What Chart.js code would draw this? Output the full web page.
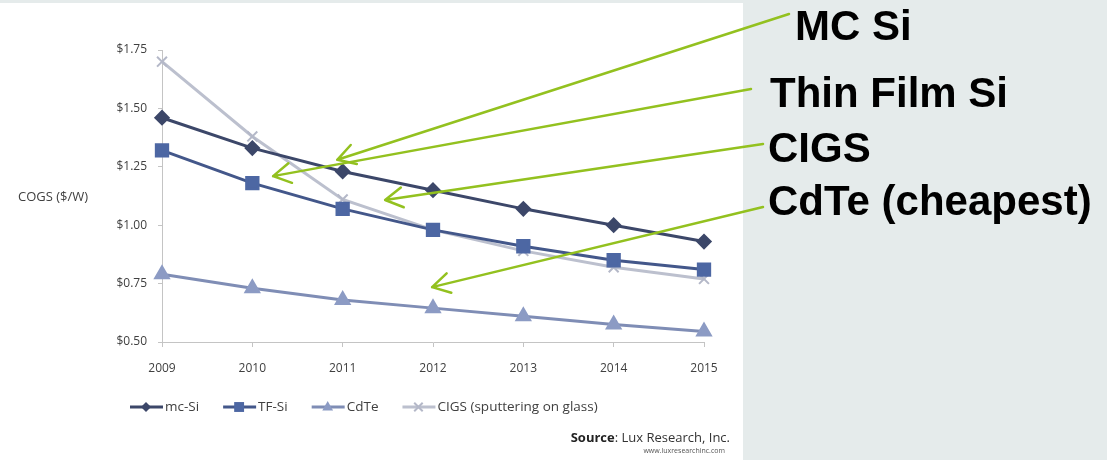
<!DOCTYPE html>
<html>
<head>
<meta charset="utf-8">
<script src="https://cdn.jsdelivr.net/npm/chart.js@4/dist/chart.umd.min.js"></script>
<style>
  html, body { margin: 0; padding: 0; background: #e5ebeb; }
  canvas { display: block; }
</style>
</head>
<body>
<canvas id="cogsChart" width="1107" height="460"></canvas>
<script>
// data
const years = ['2009', '2010', '2011', '2012', '2013', '2014', '2015'];
const mcSi = [1.46, 1.33, 1.23, 1.15, 1.07, 1.00, 0.93];
const tfSi = [1.32, 1.18, 1.07, 0.98, 0.91, 0.85, 0.81];
const cdTe = [0.79, 0.73, 0.68, 0.645, 0.61, 0.575, 0.545];
const cigs = [1.70, 1.38, 1.11, 0.98, 0.89, 0.82, 0.77];
const seriesNames = ['mc-Si', 'TF-Si', 'CdTe', 'CIGS (sputtering on glass)'];
const yMin = 0.5, yMax = 1.75, yStep = 0.25;

// callouts on the right: text, and where the arrow tip points (category index, value)
const callouts = ['MC Si', 'Thin Film Si', 'CIGS', 'CdTe (cheapest)'];
const calloutTips = [[1.94, 1.28], [1.23, 1.21], [2.47, 1.108], [2.99, 0.735]];

const green = '#93c11f';

function drawMarker(ctx, style, x, y, r) {
  ctx.beginPath();
  if (style === 'rectRot') {
    ctx.moveTo(x, y - r); ctx.lineTo(x + r, y); ctx.lineTo(x, y + r); ctx.lineTo(x - r, y);
    ctx.closePath(); ctx.fill();
  } else if (style === 'rect') {
    let s = r * Math.SQRT1_2;
    ctx.rect(x - s, y - s, 2 * s, 2 * s); ctx.fill();
  } else if (style === 'triangle') {
    ctx.moveTo(x, y - r); ctx.lineTo(x + r * 0.9, y + r * 0.6); ctx.lineTo(x - r * 0.9, y + r * 0.6);
    ctx.closePath(); ctx.fill();
  } else {
    let s = r * Math.SQRT1_2;
    ctx.moveTo(x - s, y - s); ctx.lineTo(x + s, y + s);
    ctx.moveTo(x + s, y - s); ctx.lineTo(x - s, y + s);
    ctx.stroke();
  }
}

const extras = {
  id: 'extras',
  beforeDraw(chart) {
    const ctx = chart.ctx;
    ctx.save();
    ctx.fillStyle = '#e5ebeb';
    ctx.fillRect(0, 0, chart.width, chart.height);
    ctx.fillStyle = '#ffffff';
    ctx.fillRect(0, 3, 743, chart.height - 3);
    ctx.restore();
  },
  afterDraw(chart) {
    const ctx = chart.ctx;
    const area = chart.chartArea;
    ctx.save();

    // axis title, written flat on the left
    ctx.fillStyle = '#404040';
    ctx.font = '13px "Open Sans"';
    ctx.textBaseline = 'middle';
    ctx.textAlign = 'left';
    ctx.fillText('COGS ($/W)', 18, (area.top + area.bottom) / 2 + 1);

    // legend: line with marker, then label
    let lx = 130;
    const ly = 407;
    ctx.font = '13.5px "Open Sans"';
    chart.data.datasets.forEach((ds) => {
      ctx.strokeStyle = ds.borderColor;
      ctx.lineWidth = 3;
      ctx.beginPath(); ctx.moveTo(lx, ly); ctx.lineTo(lx + 33, ly); ctx.stroke();
      ctx.fillStyle = ds.pointBackgroundColor;
      ctx.strokeStyle = ds.pointBorderColor;
      ctx.lineWidth = 2;
      drawMarker(ctx, ds.pointStyle, lx + 16, ly, ds.pointRadius - 1);
      ctx.fillStyle = '#404040';
      ctx.fillText(ds.label, lx + 35, ly);
      lx += 35 + ctx.measureText(ds.label).width + 24;
    });

    // source line
    ctx.textAlign = 'right';
    ctx.textBaseline = 'alphabetic';
    ctx.font = '13px "Open Sans"';
    const rest = ': Lux Research, Inc.';
    ctx.fillStyle = '#333';
    ctx.fillText(rest, 730, 442);
    const restW = ctx.measureText(rest).width;
    ctx.font = 'bold 13px "Open Sans"';
    ctx.fillStyle = '#222';
    ctx.fillText('Source', 730 - restW, 442);
    ctx.font = '7px "Open Sans"';
    ctx.fillStyle = '#555';
    ctx.fillText('www.luxresearchinc.com', 725, 453);

    // callout texts
    ctx.textAlign = 'left';
    ctx.fillStyle = '#000';
    ctx.font = 'bold 42px "Liberation Sans"';
    const textPos = [[795, 40], [770, 107], [768, 162], [768, 215]];
    const starts = [[789, 14], [751, 89], [763, 144], [763, 207]];
    callouts.forEach((t, i) => ctx.fillText(t, textPos[i][0], textPos[i][1]));

    // green arrows
    const xs = chart.scales.x, ysc = chart.scales.y;
    ctx.strokeStyle = green;
    ctx.lineWidth = 2.5;
    ctx.lineCap = 'round';
    calloutTips.forEach((tip, i) => {
      const tx = xs.getPixelForValue(tip[0]);
      const ty = ysc.getPixelForValue(tip[1]);
      const sx = starts[i][0], sy = starts[i][1];
      const ang = Math.atan2(sy - ty, sx - tx);
      ctx.beginPath();
      ctx.moveTo(sx, sy); ctx.lineTo(tx, ty);
      [-0.52, 0.52].forEach((d) => {
        ctx.moveTo(tx, ty);
        ctx.lineTo(tx + 20 * Math.cos(ang + d), ty + 20 * Math.sin(ang + d));
      });
      ctx.stroke();
    });
    ctx.restore();
  }
};

const ctx = document.getElementById('cogsChart');

new Chart(ctx, {
  type: 'line',
  data: {
    labels: years,
    datasets: [
      {
        label: seriesNames[0], data: mcSi,
        borderColor: '#3c4769', pointBackgroundColor: '#3c4769', pointBorderColor: '#3c4769',
        pointStyle: 'rectRot', pointRadius: 6, borderWidth: 3
      },
      {
        label: seriesNames[1], data: tfSi,
        borderColor: '#43578a', pointBackgroundColor: '#4d67a3', pointBorderColor: '#4d67a3',
        pointStyle: 'rect', pointRadius: 8, borderWidth: 3
      },
      {
        label: seriesNames[2], data: cdTe,
        borderColor: '#7f8db5', pointBackgroundColor: '#8c9bc4', pointBorderColor: '#8c9bc4',
        pointStyle: 'triangle', pointRadius: 7, borderWidth: 3
      },
      {
        label: seriesNames[3], data: cigs,
        borderColor: '#bcc0ce', pointBackgroundColor: '#bcc0ce', pointBorderColor: '#b4b8c8',
        pointStyle: 'crossRot', pointRadius: 7, pointBorderWidth: 2, borderWidth: 3
      }
    ]
  },
  plugins: [extras],
  options: {
    responsive: false,
    animation: false,
    layout: { padding: { left: 100, right: 403, top: 50, bottom: 88 } },
    plugins: {
      legend: { display: false },
      tooltip: { enabled: false }
    },
    elements: { line: { tension: 0 } },
    scales: {
      x: {
        offset: false,
        afterFit: (s) => { s.height = 30; },
        grid: { drawOnChartArea: false, tickLength: 5, color: '#c4c4c4' },
        border: { color: '#c4c4c4', width: 1 },
        ticks: { color: '#404040', font: { family: 'Open Sans', size: 12 }, padding: 14, maxRotation: 0 }
      },
      y: {
        min: yMin, max: yMax,
        afterFit: (s) => { s.width = 62; },
        grid: { drawOnChartArea: false, tickLength: 4, color: '#c4c4c4' },
        border: { color: '#c4c4c4', width: 1 },
        ticks: {
          stepSize: yStep, color: '#404040', font: { family: 'Open Sans', size: 12 }, padding: 11,
          callback: (v) => '$' + v.toFixed(2)
        }
      }
    }
  }
});
</script>
</body>
</html>
